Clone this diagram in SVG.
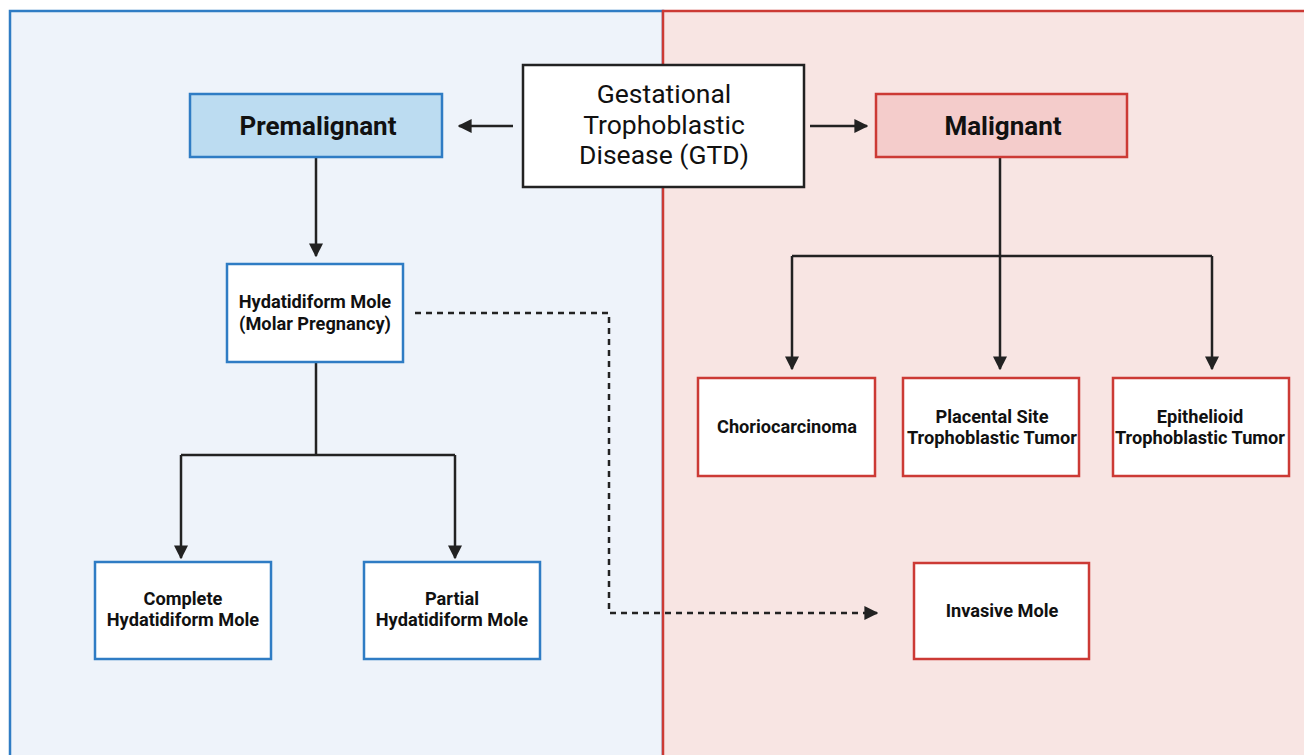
<svg xmlns="http://www.w3.org/2000/svg" width="1304" height="755" viewBox="0 0 1304 755">
<style>
.t{font-family:Roboto,"Liberation Sans",sans-serif;fill:#111;text-anchor:middle}
.b{font-weight:bold;font-size:18.2px}
.h{font-weight:bold;font-size:26px}
.g{font-size:26.5px}
.bl{fill:#fff;stroke:#2f7cc4;stroke-width:2.5}
.rd{fill:#fff;stroke:#cc3a35;stroke-width:2.5}
.c{fill:none;stroke:#222;stroke-width:2.5}
</style>
<defs>
<marker id="ah" viewBox="0 0 10 10" refX="9" refY="5" markerWidth="5.6" markerHeight="5.6" orient="auto" markerUnits="strokeWidth">
<path d="M0,0 L10,5 L0,10 z" fill="#222"/>
</marker>
</defs>
<rect width="1304" height="755" fill="#fff"/>
<g id="panels">
<rect x="10" y="11" width="653" height="760" fill="#eef3fa" stroke="#2f7cc4" stroke-width="2.5"/>
<rect x="663" y="11" width="660" height="760" fill="#f8e5e3" stroke="#cc3a35" stroke-width="2.5"/>
</g>
<g id="connectors">
<line class="c" x1="513" y1="126" x2="459" y2="126" marker-end="url(#ah)"/>
<line class="c" x1="810" y1="126" x2="867" y2="126" marker-end="url(#ah)"/>
<line class="c" x1="316" y1="157" x2="316" y2="256" marker-end="url(#ah)"/>
<path class="c" d="M316,362 V455"/>
<path class="c" d="M181,455 H455"/>
<line class="c" x1="181" y1="455" x2="181" y2="558" marker-end="url(#ah)"/>
<line class="c" x1="455" y1="455" x2="455" y2="558" marker-end="url(#ah)"/>
<path class="c" d="M1000,157 V256"/>
<path class="c" d="M792,256 H1212"/>
<line class="c" x1="792" y1="256" x2="792" y2="369" marker-end="url(#ah)"/>
<line class="c" x1="1000" y1="256" x2="1000" y2="369" marker-end="url(#ah)"/>
<line class="c" x1="1212" y1="256" x2="1212" y2="369" marker-end="url(#ah)"/>
<path class="c" d="M415,313 H609 V613 H877" stroke-dasharray="6,5" stroke-width="2.7" marker-end="url(#ah)"/>
</g>
<g id="gtd">
<rect x="523" y="65" width="281" height="122" fill="#fff" stroke="#222" stroke-width="2.5"/>
<text class="t g" x="664" y="103">Gestational</text>
<text class="t g" x="664" y="134">Trophoblastic</text>
<text class="t g" x="664" y="164">Disease (GTD)</text>
</g>
<g id="premalignant">
<rect x="190" y="94" width="252" height="63" fill="#bcdcf1" stroke="#2f7cc4" stroke-width="2.5"/>
<text class="t h" x="318" y="135">Premalignant</text>
</g>
<g id="malignant">
<rect x="876" y="94" width="251" height="63" fill="#f4cccb" stroke="#cc3a35" stroke-width="2.5"/>
<text class="t h" x="1003" y="135">Malignant</text>
</g>
<g id="hydatidiform">
<rect class="bl" x="227" y="264" width="176" height="98"/>
<text class="t b" x="315" y="308">Hydatidiform Mole</text>
<text class="t b" x="315" y="330">(Molar Pregnancy)</text>
</g>
<g id="complete">
<rect class="bl" x="95" y="562" width="176" height="97"/>
<text class="t b" x="183" y="605">Complete</text>
<text class="t b" x="183" y="626">Hydatidiform Mole</text>
</g>
<g id="partial">
<rect class="bl" x="364" y="562" width="176" height="97"/>
<text class="t b" x="452" y="605">Partial</text>
<text class="t b" x="452" y="626">Hydatidiform Mole</text>
</g>
<g id="chorio">
<rect class="rd" x="698" y="378" width="177" height="98"/>
<text class="t b" x="787" y="433">Choriocarcinoma</text>
</g>
<g id="placental">
<rect class="rd" x="903" y="378" width="176" height="98"/>
<text class="t b" x="992" y="423">Placental Site</text>
<text class="t b" x="992" y="444">Trophoblastic Tumor</text>
</g>
<g id="epithelioid">
<rect class="rd" x="1113" y="378" width="176" height="98"/>
<text class="t b" x="1200" y="423">Epithelioid</text>
<text class="t b" x="1200" y="444">Trophoblastic Tumor</text>
</g>
<g id="invasive">
<rect class="rd" x="914" y="563" width="175" height="96"/>
<text class="t b" x="1002" y="617">Invasive Mole</text>
</g>
</svg>
